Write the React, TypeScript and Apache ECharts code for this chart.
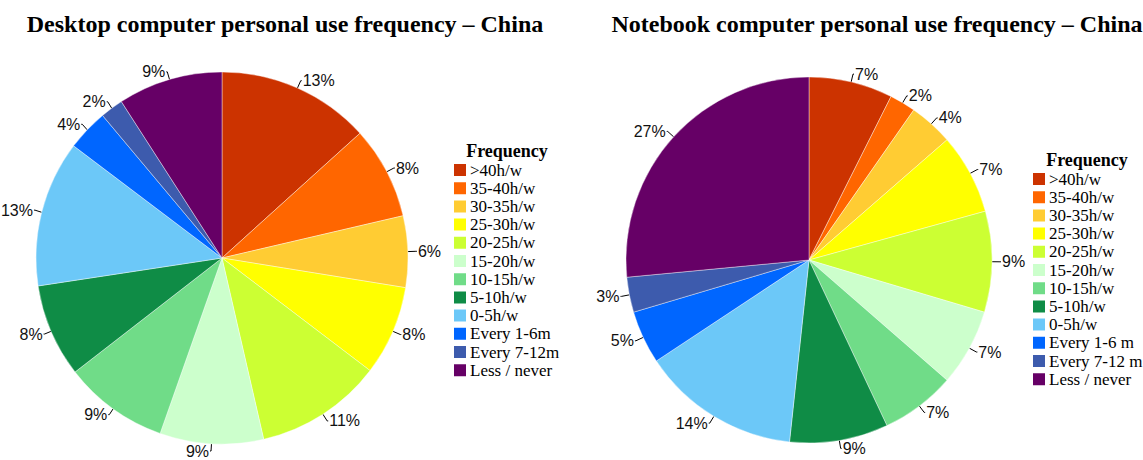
import React, { useEffect, useRef } from "react";
import * as echarts from "echarts";

const categories = [">40h/w", "35-40h/w", "30-35h/w", "25-30h/w", "20-25h/w", "15-20h/w", "10-15h/w", "5-10h/w", "0-5h/w", "Every 1-6m", "Every 7-12m", "Less / never"];
const notebookLegendNames = [">40h/w", "35-40h/w", "30-35h/w", "25-30h/w", "20-25h/w", "15-20h/w", "10-15h/w", "5-10h/w", "0-5h/w", "Every 1-6 m", "Every 7-12 m", "Less / never"];
const desktopValues = [13.3, 8.05, 6.2, 7.8, 11.05, 9.0, 9.1, 8.1, 12.7, 3.6, 2.0, 9.1];
const notebookValues = [7.4, 2.3, 3.9, 7.1, 8.9, 6.8, 6.6, 8.7, 14.0, 4.7, 3.1, 26.5];
const colors = ["#CC3300", "#FF6600", "#FFCC33", "#FFFF00", "#CCFF33", "#CCFFCC", "#70DC88", "#0F8C46", "#6CC8F8", "#0066FF", "#3D5BAD", "#660066"];
const desktopTitle = "Desktop computer personal use frequency \u2013 China";
const notebookTitle = "Notebook computer personal use frequency \u2013 China";
const legendTitle = "Frequency";

const serif = '"Liberation Serif", "Times New Roman", serif';
const sans = '"Liberation Sans", Arial, sans-serif';

function pieSeries(name: string, names: string[], values: number[], center: number[], radius: number) {
  return {
    type: "pie",
    name,
    center,
    radius,
    startAngle: 90,
    clockwise: true,
    data: names.map((n, i) => ({ name: n, value: values[i], itemStyle: { color: colors[i] } })),
    itemStyle: { borderColor: "#ffffff", borderWidth: 0.4 },
    label: {
      show: true,
      formatter: (p: any) => Math.round(p.value) + "%",
      fontFamily: sans,
      fontSize: 16,
      color: "#111",
      distanceToLabelLine: 1,
      overflow: "none",
    },
    labelLine: { show: true, length: 8, length2: 1, lineStyle: { color: "#000", width: 1 } },
    emphasis: { disabled: true },
  };
}

export default function App() {
  const ref = useRef<HTMLDivElement>(null);
  useEffect(() => {
    if (!ref.current) return;
    const chart = echarts.init(ref.current, null, { renderer: "svg" });
    const legendBase = {
      orient: "vertical",
      itemWidth: 14,
      itemHeight: 14,
      itemGap: 1.2,
      icon: "rect",
      selectedMode: false,
      textStyle: { fontFamily: serif, fontSize: 17, color: "#000", padding: [0, 0, 0, -2] },
      padding: 0,
    };
    chart.setOption({
      animation: false,
      color: colors,
      graphic: [
        { type: "text", x: 285, y: 24, style: { text: desktopTitle, font: "bold 24px " + serif, fill: "#000", align: "center", verticalAlign: "middle" } },
        { type: "text", x: 877, y: 24, style: { text: notebookTitle, font: "bold 24px " + serif, fill: "#000", align: "center", verticalAlign: "middle" } },
        { type: "text", x: 507, y: 151, style: { text: legendTitle, font: "bold 18px " + serif, fill: "#000", align: "center", verticalAlign: "middle" } },
        { type: "text", x: 1087, y: 160, style: { text: legendTitle, font: "bold 18px " + serif, fill: "#000", align: "center", verticalAlign: "middle" } },
      ],
      legend: [
        { ...legendBase, left: 452, top: 161.5, data: categories },
        { ...legendBase, left: 1031, top: 170.5, data: notebookLegendNames },
      ],
      series: [
        pieSeries("Desktop", categories, desktopValues, [222, 258], 186),
        pieSeries("Notebook", notebookLegendNames, notebookValues, [809, 260], 183),
      ],
    });
    return () => chart.dispose();
  }, []);
  return <div ref={ref} style={{ position: "absolute", left: 0, top: 0, width: 1143, height: 460 }} />;
}
